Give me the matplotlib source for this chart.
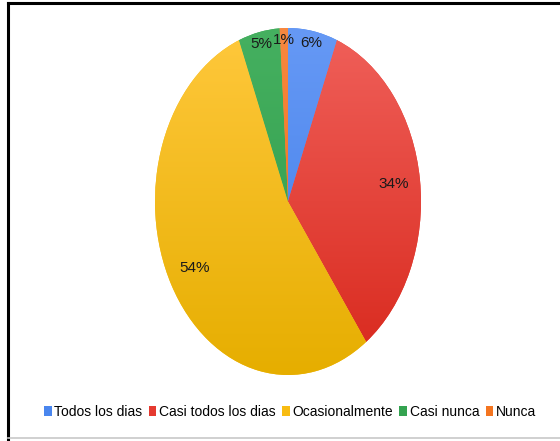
import numpy as np
import matplotlib
matplotlib.use('Agg')
import matplotlib.pyplot as plt
from matplotlib.colors import LinearSegmentedColormap
from matplotlib.lines import Line2D
from matplotlib.patches import Patch

# --- datos ---
categorias = ["Todos los dias", "Casi todos los dias", "Ocasionalmente", "Casi nunca", "Nunca"]
porcentajes = [6, 34, 54, 5, 1]
# colores (arriba, abajo) para el degradado
colores_top = ["#6699F5", "#F0605A", "#FFC83C", "#45B060", "#F88840"]
colores_bot = ["#3F7CE8", "#D8281C", "#E6AE00", "#2E9A48", "#EE6A10"]
colores_leyenda = ["#4A86EE", "#E53A30", "#F8BC12", "#34A350", "#F47520"]
dist_etiquetas = [0.93, 0.8, 0.8, 0.93, 0.93]

plt.rcParams['font.family'] = ['Liberation Sans', 'DejaVu Sans']

fig = plt.figure(figsize=(5.6, 4.41), dpi=100)
W, H = 560, 441
ax = fig.add_axes([155 / W, (H - 375) / H, 266 / W, 347 / H])

wedges, _ = ax.pie(porcentajes, startangle=90, counterclock=False,
                   colors=colores_leyenda, radius=1.0,
                   wedgeprops=dict(linewidth=0))
ax.set_aspect('auto')
ax.axis('off')

grad = np.linspace(0, 1, 256).reshape(-1, 1)
for w, ct, cb in zip(wedges, colores_top, colores_bot):
    cmap = LinearSegmentedColormap.from_list('g', [ct, cb])
    im = ax.imshow(grad, cmap=cmap, extent=[-1, 1, -1, 1], origin='upper',
                   aspect='auto', zorder=2)
    im.set_clip_path(w)

ax.set_xlim(-1, 1)
ax.set_ylim(-1, 1)

for w, p, d in zip(wedges, porcentajes, dist_etiquetas):
    ang = np.deg2rad((w.theta1 + w.theta2) / 2)
    ax.text(d * np.cos(ang), d * np.sin(ang), f"{p}%", ha='center', va='center',
            fontsize=11, color='#1a1a1a', zorder=5)

handles = [Patch(facecolor=c, edgecolor='none') for c in colores_leyenda]
fig.legend(handles, categorias, loc='center', bbox_to_anchor=(0.518, 1 - 412 / H),
           ncol=5, frameon=False, fontsize=10,
           handlelength=0.55, handleheight=0.7,
           handletextpad=0.2, columnspacing=0.45, borderpad=0)

# marco
fig.add_artist(Line2D([8 / W, 1], [1 - 3 / H, 1 - 3 / H], color='black', lw=2.2))
fig.add_artist(Line2D([8 / W, 8 / W], [0, 1 - 3 / H], color='black', lw=2.2))
fig.add_artist(Line2D([8 / W, 1], [3 / H, 3 / H], color='#c8c8c8', lw=1.2))

fig.savefig('out.png', dpi=100)
